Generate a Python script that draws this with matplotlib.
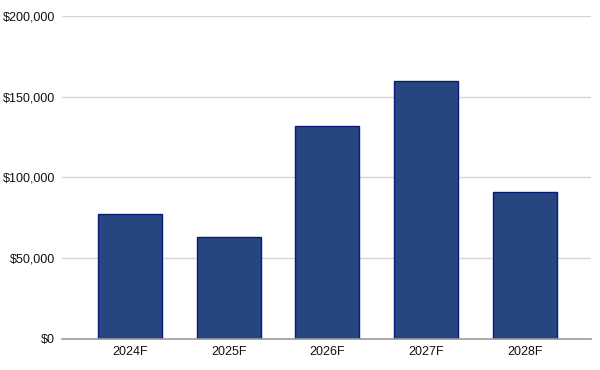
import matplotlib.pyplot as plt
from matplotlib.ticker import FuncFormatter

# forecast values
years = ['2024F', '2025F', '2026F', '2027F', '2028F']
values = [77500, 63000, 131700, 160000, 90800]
yticks = [0, 50000, 100000, 150000, 200000]

plt.rcParams['font.family'] = ['Liberation Sans', 'DejaVu Sans']

fig = plt.figure(figsize=(6, 3.7), dpi=100)
ax = fig.add_axes([0.103, 0.084, 0.882, 0.873])

x = range(len(years))
ax.bar(x, values, width=0.65, color='#264682', edgecolor='#0b1a78', linewidth=1, zorder=3)

ax.set_xlim(-0.69, 4.67)
ax.set_ylim(0, 200000)
ax.set_xticks(list(x))
ax.set_xticklabels(years)
ax.set_yticks(yticks)
ax.yaxis.set_major_formatter(FuncFormatter(lambda v, p: '${:,.0f}'.format(v)))
ax.grid(axis='y', color='#d6d6d6', linewidth=1, zorder=0)
ax.tick_params(length=0, labelsize=9, colors='#111111')
ax.tick_params(axis='y', pad=5)
ax.tick_params(axis='x', pad=5)

for s in ['top', 'right', 'left']:
    ax.spines[s].set_visible(False)
ax.spines['bottom'].set_color('#999999')
ax.spines['bottom'].set_linewidth(1.2)
ax.spines['bottom'].set_zorder(4)

fig.savefig('out.png', dpi=100)
